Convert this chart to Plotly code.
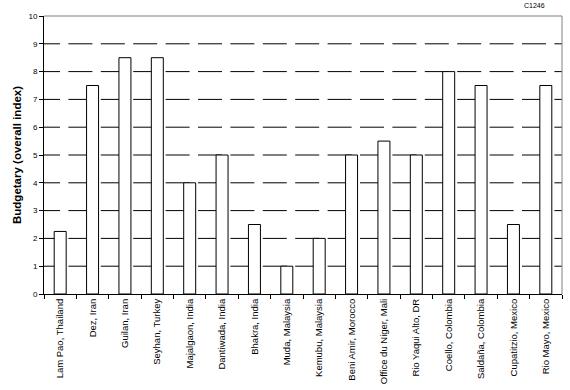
import plotly.graph_objects as go

categories = ["Lam Pao, Thailand", "Dez, Iran", "Guilan, Iran", "Seyhan, Turkey",
              "Majalgaon, India", "Dantiwada, India", "Bhakra, India", "Muda, Malaysia",
              "Kemubu, Malaysia", "Beni Amir, Morocco", "Office du Niger, Mali",
              "Rio Yaqui Alto, DR", "Coello, Colombia", "Saldaña, Colombia",
              "Cupatitzio, Mexico", "Rio Mayo, Mexico"]
values = [2.25, 7.5, 8.5, 8.5, 4, 5, 2.5, 1, 2, 5, 5.5, 5, 8, 7.5, 2.5, 7.5]
y_ticks = list(range(0, 11))
grid_levels = list(range(1, 10))

FONT = "Liberation Sans, Arial, sans-serif"

fig = go.Figure()
fig.add_trace(go.Bar(
    x=categories, y=values,
    marker=dict(color="white", line=dict(color="black", width=1)),
    width=0.37,
))

dash = ",".join(["16px"] + ["8.4px", "24px"] * 17)
shapes = []
for g in grid_levels:
    shapes.append(dict(type="line", xref="paper", x0=0, x1=1, yref="y", y0=g, y1=g,
                       line=dict(color="black", width=1, dash=dash), layer="below"))
# top and right border in gray
shapes.append(dict(type="line", xref="paper", x0=0, x1=1, yref="paper", y0=1, y1=1,
                   line=dict(color="#808080", width=1), layer="above"))
shapes.append(dict(type="line", xref="paper", x0=1, x1=1, yref="paper", y0=0, y1=1,
                   line=dict(color="#808080", width=1), layer="above"))

fig.update_layout(
    width=570, height=390,
    margin=dict(l=44, r=8, t=16, b=96, autoexpand=False),
    plot_bgcolor="white", paper_bgcolor="white",
    showlegend=False,
    shapes=shapes,
    font=dict(family=FONT, color="black"),
    xaxis=dict(type="category", tickson="boundaries", ticks="outside", ticklen=4,
               tickcolor="black", showline=True, linecolor="black", linewidth=1,
               tickangle=-90, tickfont=dict(size=9.5, family=FONT), showgrid=False,
               automargin=False, range=[-0.5, len(categories) - 0.5]),
    yaxis=dict(range=[0, 10], tickvals=y_ticks, ticks="outside", ticklen=4,
               tickcolor="black", showline=True, linecolor="black", linewidth=1,
               tickfont=dict(size=8, family=FONT), showgrid=False, zeroline=False,
               automargin=False),
    annotations=[
        dict(text="<b>Budgetary (overall index)</b>", xref="paper", yref="paper",
             x=0, y=0.5, xanchor="center", yanchor="middle", xshift=-27,
             textangle=-90, showarrow=False, font=dict(size=11.5, family=FONT)),
        dict(text="C1246", xref="paper", yref="paper", x=(534 - 44) / 518, y=1.0,
             xanchor="center", yanchor="bottom", yshift=5, showarrow=False,
             font=dict(size=7, family=FONT)),
    ],
)

fig.write_html("out.html", config={"displayModeBar": False},
               post_script="document.body.style.margin='0';")
